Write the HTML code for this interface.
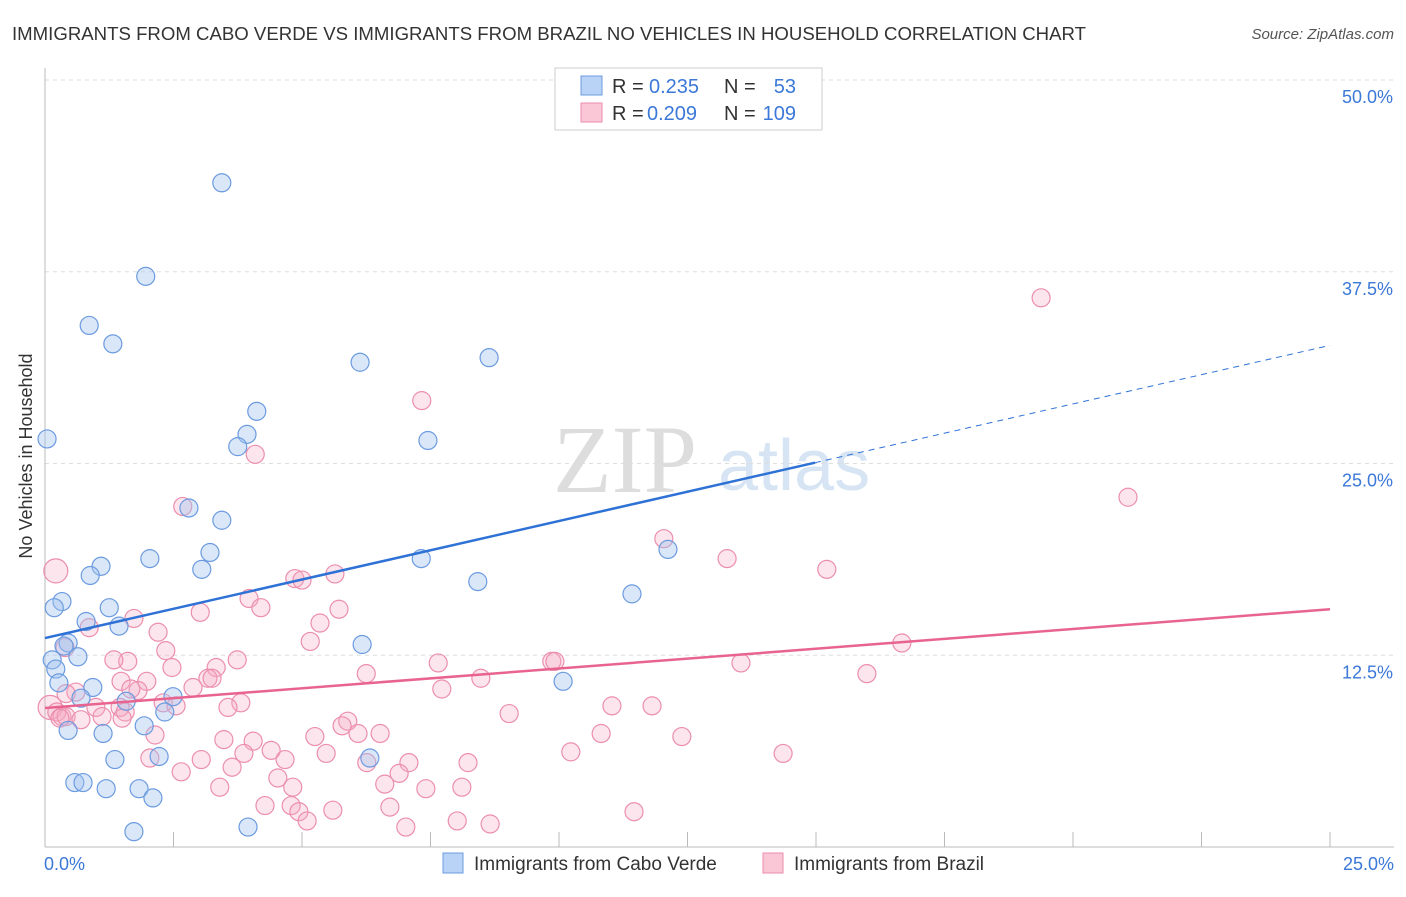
<!DOCTYPE html>
<html><head><meta charset="utf-8"><style>
body{margin:0;background:#fff;font-family:"Liberation Sans",sans-serif;}
</style></head><body>
<svg id="chart" width="1406" height="892" xmlns="http://www.w3.org/2000/svg" style="font-family:'Liberation Sans',sans-serif">
<text x="12" y="40" font-size="18" fill="#333" textLength="1074" lengthAdjust="spacingAndGlyphs">IMMIGRANTS FROM CABO VERDE VS IMMIGRANTS FROM BRAZIL NO VEHICLES IN HOUSEHOLD CORRELATION CHART</text>
<text x="1394" y="39" font-size="15" fill="#555" font-style="italic" text-anchor="end">Source: ZipAtlas.com</text>
<g><text x="553" y="492" font-size="96" fill="#ddd" font-family="Liberation Serif,serif">ZIP</text><text x="718" y="490" font-size="72" fill="#d6e4f4">atlas</text></g>
<g id="grid"></g><g id="axes"></g><g id="pts"></g><g id="lines"></g>
<text x="32" y="456" font-size="18" fill="#333" text-anchor="middle" transform="rotate(-90 32 456)">No Vehicles in Household</text>
<g>
<rect x="555" y="68" width="267" height="62" fill="#fff" stroke="#ccc"/>
<rect x="581" y="76" width="21" height="19" fill="#b8d3f5" stroke="#6c9be0"/>
<rect x="581" y="103" width="21" height="19" fill="#f9c7d6" stroke="#ec8ead"/>
<g font-size="20" fill="#333">
<text x="612" y="93">R =</text><text x="649" y="93" fill="#3b78d8">0.235</text><text x="724" y="93">N =</text><text x="796" y="93" fill="#3b78d8" text-anchor="end">53</text>
<text x="612" y="120">R =</text><text x="647" y="120" fill="#3b78d8">0.209</text><text x="724" y="120">N =</text><text x="796" y="120" fill="#3b78d8" text-anchor="end">109</text>
</g>
</g>
<g>
<rect x="443" y="853" width="20" height="20" fill="#b8d3f5" stroke="#6c9be0"/>
<text x="474" y="870" font-size="19" fill="#333">Immigrants from Cabo Verde</text>
<rect x="763" y="853" width="20" height="20" fill="#f9c7d6" stroke="#ec8ead"/>
<text x="794" y="870" font-size="19" fill="#333">Immigrants from Brazil</text>
</g>
</svg>
<script>
const xTicks=[0,2.5,5,7.5,10,12.5,15,17.5,20,22.5,25];
const yTicks=[12.5,25,37.5,50];
const yTickLabels=["12.5%","25.0%","37.5%","50.0%"];
const xEndLabels=["0.0%","25.0%"];
const blueX=[0.04,3.44,1.96,0.86,1.32,6.13,8.64,4.12,3.93,3.75,7.45,2.80,3.44,3.21,2.04,1.09,0.88,3.05,7.32,8.42,12.12,11.42,0.33,0.18,1.25,0.80,1.44,0.45,0.37,6.17,0.14,0.64,0.21,0.27,0.93,10.08,2.49,0.70,1.58,2.33,1.93,0.45,1.13,2.22,1.36,6.32,0.58,0.74,1.19,1.83,2.10,1.73,3.95];
const blueY=[26.6,43.3,37.2,34.0,32.8,31.6,31.9,28.4,26.9,26.1,26.5,22.1,21.3,19.2,18.8,18.3,17.7,18.1,18.8,17.3,19.4,16.5,16.0,15.6,15.6,14.7,14.4,13.3,13.1,13.2,12.2,12.4,11.6,10.7,10.4,10.8,9.8,9.7,9.5,8.8,7.9,7.6,7.4,5.9,5.7,5.8,4.2,4.2,3.8,3.8,3.2,1.0,1.3];
const pinkX=[19.38,7.33,4.09,21.07,2.68,12.04,13.27,15.21,0.21,4.86,5.00,5.64,3.97,4.20,3.02,1.73,5.35,5.72,0.86,2.20,0.39,2.35,5.16,16.67,9.86,9.92,7.65,13.54,3.74,1.61,1.34,2.47,3.33,6.25,15.99,8.48,3.17,3.25,1.98,1.48,2.88,1.81,1.67,7.72,0.60,0.41,2.30,3.81,2.55,3.56,0.10,0.23,0.33,0.41,0.99,1.46,1.56,1.11,0.29,0.70,1.50,11.81,11.03,9.03,5.89,5.78,5.25,6.09,6.52,4.05,3.48,2.14,12.39,10.82,14.36,10.23,5.47,3.87,4.40,4.67,2.04,7.08,8.23,6.26,3.04,3.64,2.65,6.89,4.53,6.61,3.40,7.41,8.11,4.82,4.28,4.79,6.71,4.94,5.60,5.10,7.02,8.02,8.66,11.46];
const pinkY=[35.8,29.1,25.6,22.8,22.2,20.1,18.8,18.1,18.0,17.5,17.4,17.8,16.2,15.6,15.3,14.9,14.6,15.5,14.3,14.0,13.0,12.8,13.4,13.3,12.1,12.1,12.0,12.0,12.2,12.1,12.2,11.7,11.7,11.3,11.3,11.0,11.0,11.0,10.8,10.8,10.4,10.2,10.3,10.3,10.1,10.0,9.4,9.4,9.2,9.1,9.1,8.8,8.5,8.5,9.1,9.1,8.8,8.5,8.4,8.3,8.4,9.2,9.2,8.7,8.2,7.9,7.2,7.4,7.4,6.9,7.0,7.3,7.2,7.4,6.1,6.2,6.1,6.1,6.3,5.7,5.8,5.5,5.5,5.5,5.7,5.2,4.9,4.8,4.5,4.1,3.9,3.8,3.9,3.9,2.7,2.7,2.6,2.3,2.4,1.7,1.3,1.7,1.5,2.3];
const bigPink=[8,50];
const blueTrend=[13.62,32.7];const blueSolidEnd=14.98;
const pinkTrend=[9.06,15.5];
const NS="http://www.w3.org/2000/svg";
const X=v=>45+v/25*1285, Y=v=>847-v*15.34;
function mk(t,a,p){const e=document.createElementNS(NS,t);for(const k in a)e.setAttribute(k,a[k]);p.appendChild(e);return e;}
const grid=document.getElementById('grid'),axes=document.getElementById('axes'),pts=document.getElementById('pts'),lines=document.getElementById('lines');
yTicks.forEach((v,i)=>{
 const l=mk('line',{x1:45,x2:1394,y1:Y(v),y2:Y(v),stroke:'#ddd','stroke-dasharray':'4,4'},grid);
 
 
 const t=mk('text',{x:1393,y:Y(v)+23,'font-size':18,fill:'#3b78d8','text-anchor':'end'},axes);t.textContent=yTickLabels[i];
 
 
});
const ax=mk('line',{x1:45,x2:45,y1:68,y2:847,stroke:'#bbb'},axes);


const bx=mk('line',{x1:45,x2:1394,y1:847,y2:847,stroke:'#bbb'},axes);


xTicks.forEach(v=>{const t=mk('line',{x1:X(v),x2:X(v),y1:832,y2:847,stroke:'#bbb'},axes);
 
 });
const l0=mk('text',{x:44,y:870,'font-size':18,fill:'#3b78d8'},axes);l0.textContent=xEndLabels[0];


const l1=mk('text',{x:1394,y:870,'font-size':18,fill:'#3b78d8','text-anchor':'end'},axes);l1.textContent=xEndLabels[1];


pinkX.forEach((v,i)=>{const c=mk('circle',{cx:X(v),cy:Y(pinkY[i]),r:bigPink.includes(i)?12:9,fill:'rgba(246,170,195,0.3)',stroke:'#ec8ead','stroke-width':1.2},pts);
 
 });
blueX.forEach((v,i)=>{const c=mk('circle',{cx:X(v),cy:Y(blueY[i]),r:9,fill:'rgba(160,196,240,0.4)',stroke:'#6c9be0','stroke-width':1.2},pts);
 
 });
const by=x=>blueTrend[0]+(blueTrend[1]-blueTrend[0])*x/25;
const b1=mk('line',{x1:X(0),y1:Y(by(0)),x2:X(blueSolidEnd),y2:Y(by(blueSolidEnd)),stroke:'#2f72d6','stroke-width':2.5},lines);


const b2=mk('line',{x1:X(blueSolidEnd),y1:Y(by(blueSolidEnd)),x2:X(25),y2:Y(by(25)),stroke:'#2f72d6','stroke-width':1,'stroke-dasharray':'6,5'},lines);


const p1=mk('line',{x1:X(0),y1:Y(pinkTrend[0]),x2:X(25),y2:Y(pinkTrend[1]),stroke:'#e8648f','stroke-width':2.5},lines);


</script>
</body></html>
